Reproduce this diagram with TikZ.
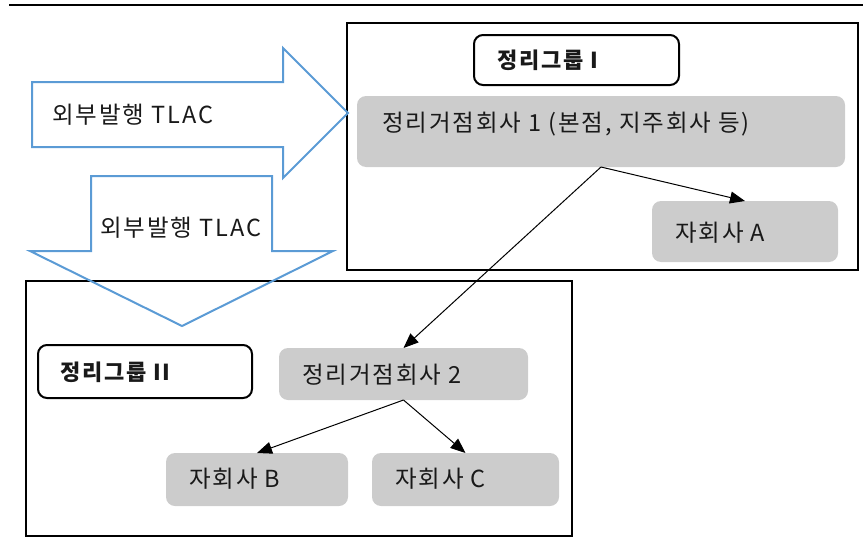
\documentclass[tikz,border=0pt]{standalone}
\usepackage{fontspec}
\setmainfont{Noto Sans CJK KR}[LetterSpace=8]
\usetikzlibrary{arrows.meta}
\definecolor{boxgray}{HTML}{CCCCCC}
\definecolor{arrowblue}{HTML}{5B9BD5}
\begin{document}
\begin{tikzpicture}[x=1pt,y=-1pt,
  frame/.style={draw=black, line width=2pt, inner sep=0pt, outer sep=0pt},
  tagbox/.style={draw=black, line width=2pt, rounded corners=9pt, inner sep=0pt, outer sep=0pt},
  graybox/.style={fill=boxgray, rounded corners=9pt, inner sep=0pt, outer sep=0pt},
  txt/.style={inner sep=0pt, anchor=west, font=\fontsize{23.5}{27}\selectfont, text=black!90},
  tagtxt/.style={txt, font=\fontsize{22}{26}\selectfont\bfseries},
  link/.style={draw=black, line width=1pt, -{Triangle[length=15pt,width=12pt]}},
  bigarrow/.style={draw=arrowblue, line width=2pt, line join=miter}
]
\useasboundingbox (0,0) rectangle (863,549);
% top rule
\coordinate (ruleL) at (9,5);
\coordinate (ruleR) at (863,5);
\draw[line width=2.5pt] (ruleL) -- (ruleR);

% group frames
\node[frame, minimum width=511pt, minimum height=247pt] (G1) at (602.5,146.5) {};
\node[frame, minimum width=546.5pt, minimum height=255.5pt] (G2) at (298.75,408.25) {};

% group tags
\node[tagbox, minimum width=205pt, minimum height=50pt] (tag1) at (576.5,60) {};
\node[tagtxt] (tag1t) at (497,60) {정리그룹 I};
\node[tagbox, minimum width=214pt, minimum height=53pt] (tag2) at (145,371.5) {};
\node[tagtxt] (tag2t) at (60,372) {정리그룹 II};

% company boxes
\node[graybox, minimum width=488pt, minimum height=71pt] (C1) at (601,131.5) {};
\node[txt] (C1t) at (382,124) {정리거점회사 1 (본점, 지주회사 등)};
\node[graybox, minimum width=186pt, minimum height=61pt] (SA) at (745,231.5) {};
\node[txt] (SAt) at (675,233) {자회사 A};
\node[graybox, minimum width=249pt, minimum height=52pt] (C2) at (403.5,374) {};
\node[txt] (C2t) at (302,375) {정리거점회사 2};
\node[graybox, minimum width=182pt, minimum height=53pt] (SB) at (257,479.5) {};
\node[txt] (SBt) at (189,479) {자회사 B};
\node[graybox, minimum width=187pt, minimum height=53pt] (SC) at (465.5,479.5) {};
\node[txt] (SCt) at (395,479) {자회사 C};

% connectors
\draw[link] (C1.south) -- (SA.north);
\draw[link] (C1.south) -- (C2.north);
\draw[link] (C2.south) -- (SB.north);
\draw[link] (C2.south) -- (SC.north);

% block arrows
\draw[bigarrow] (32,82) -- (283,82) -- (283,48) -- (348,113) -- (283,178) -- (283,147) -- (32,147) -- cycle;
\node[txt] (R1t) at (52,115) {외부발행 TLAC};
\draw[bigarrow] (91,176) -- (272,176) -- (272,251) -- (333,251) -- (182,326) -- (30,251) -- (91,251) -- cycle;
\node[txt] (D1t) at (100,228) {외부발행 TLAC};
\end{tikzpicture}
\end{document}
